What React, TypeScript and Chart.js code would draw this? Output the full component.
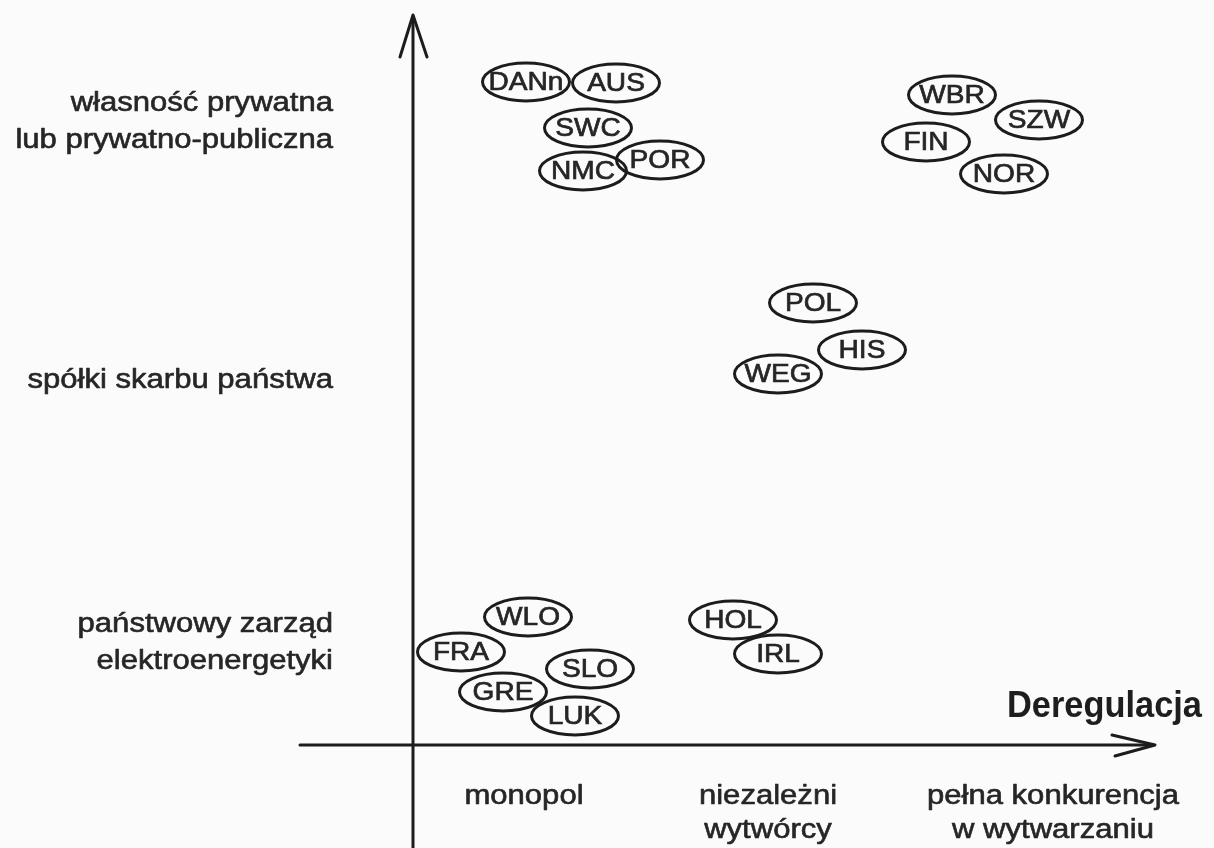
import React, { useEffect, useRef } from 'react';
import { Chart, registerables } from 'chart.js';

Chart.register(...registerables);

// ---- data (x: deregulation level, 0 = vertical axis; y: ownership level, 0 = horizontal axis)
const countries = ['DANn', 'AUS', 'SWC', 'NMC', 'POR', 'WBR', 'SZW', 'FIN', 'NOR', 'POL', 'HIS', 'WEG', 'WLO', 'FRA', 'SLO', 'GRE', 'LUK', 'HOL', 'IRL'];
const deregulation = [0.452, 0.812, 0.7, 0.68, 0.988, 2.156, 2.504, 2.052, 2.364, 1.6, 1.796, 1.46, 0.46, 0.192, 0.708, 0.36, 0.648, 1.28, 1.46];
const ownership = [2.652, 2.648, 2.468, 2.296, 2.34, 2.6, 2.5, 2.412, 2.284, 1.768, 1.58, 1.484, 0.512, 0.372, 0.304, 0.212, 0.116, 0.5, 0.364];

const xLevelLabels = [['monopol'], ['niezależni', 'wytwórcy'], ['pełna konkurencja', 'w wytwarzaniu']];
const xLevelValues = [0.444, 1.42, 2.56];
const yLevelLabels = [['własność prywatna', 'lub prywatno-publiczna'], ['spółki skarbu państwa'], ['państwowy zarząd', 'elektroenergetyki']];
const yLevelValues = [2.492, 1.456, 0.406];
const axisTitle = 'Deregulacja';

// axis extents (data units)
const X_MIN = -1.652, X_MAX = 3.204, Y_MIN = -0.412, Y_MAX = 2.98;
const X_AXIS_START = -0.452, X_AXIS_END = 2.968;
const Y_AXIS_END = 2.92;
const Y_LABEL_X = -0.32;
const X_LABEL_Y = -0.208;
const TITLE_X = 3.156, TITLE_Y = 0.112;

const INK = '#1c1c1c';
const TEXT = '#262626';
const FONT = '"Liberation Sans", Arial, Helvetica, sans-serif';

function makeBadge(label: string): HTMLCanvasElement {
  const c = document.createElement('canvas');
  c.width = 96;
  c.height = 46;
  const ctx = c.getContext('2d')!;
  ctx.strokeStyle = INK;
  ctx.lineWidth = 3;
  ctx.beginPath();
  ctx.ellipse(48, 23, 43.5, 19, 0, 0, Math.PI * 2);
  ctx.stroke();
  ctx.fillStyle = TEXT;
  ctx.strokeStyle = TEXT;
  ctx.lineWidth = 0.7;
  ctx.font = `26px ${FONT}`;
  ctx.textAlign = 'center';
  ctx.textBaseline = 'middle';
  ctx.save();
  ctx.translate(48, 24);
  ctx.scale(1.08, 1);
  ctx.fillText(label, 0, 0);
  ctx.strokeText(label, 0, 0);
  ctx.restore();
  return c;
}

function drawText(ctx: CanvasRenderingContext2D, text: string, x: number, y: number, align: CanvasTextAlign, sx: number, stroke: number) {
  ctx.save();
  ctx.translate(x, y);
  ctx.scale(sx, 1);
  ctx.textAlign = align;
  ctx.fillText(text, 0, 0);
  if (stroke > 0) {
    ctx.lineWidth = stroke;
    ctx.strokeText(text, 0, 0);
  }
  ctx.restore();
}

const diagramPlugin = {
  id: 'diagram',
  beforeDraw(chart: any) {
    const { ctx, width, height } = chart;
    ctx.save();
    ctx.fillStyle = '#fbfbfb';
    ctx.fillRect(0, 0, width, height);
    ctx.restore();
  },
  beforeDatasetsDraw(chart: any) {
    const ctx: CanvasRenderingContext2D = chart.ctx;
    const xs = chart.scales.x;
    const ys = chart.scales.y;
    const x0 = xs.getPixelForValue(0);
    const y0 = ys.getPixelForValue(0);
    ctx.save();
    ctx.strokeStyle = INK;
    ctx.lineWidth = 3;
    ctx.lineCap = 'round';
    ctx.lineJoin = 'round';
    // vertical axis
    const yTop = ys.getPixelForValue(Y_AXIS_END);
    ctx.beginPath();
    ctx.moveTo(x0, ys.getPixelForValue(Y_MIN));
    ctx.lineTo(x0, yTop + 2);
    ctx.stroke();
    ctx.beginPath();
    ctx.moveTo(x0 - 13, yTop + 42);
    ctx.lineTo(x0, yTop);
    ctx.lineTo(x0 + 14, yTop + 42);
    ctx.stroke();
    // horizontal axis
    const xRight = xs.getPixelForValue(X_AXIS_END);
    ctx.beginPath();
    ctx.moveTo(xs.getPixelForValue(X_AXIS_START), y0);
    ctx.lineTo(xRight - 2, y0);
    ctx.stroke();
    ctx.beginPath();
    ctx.moveTo(xRight - 43, y0 - 10);
    ctx.lineTo(xRight, y0);
    ctx.lineTo(xRight - 40, y0 + 11);
    ctx.stroke();

    // level labels
    ctx.fillStyle = TEXT;
    ctx.strokeStyle = TEXT;
    ctx.font = `27px ${FONT}`;
    ctx.textBaseline = 'middle';
    const lineH = 37;
    yLevelLabels.forEach((lines, i) => {
      const cy = ys.getPixelForValue(yLevelValues[i]);
      const start = cy - ((lines.length - 1) * lineH) / 2;
      lines.forEach((t, j) => drawText(ctx, t, xs.getPixelForValue(Y_LABEL_X), start + j * lineH, 'right', 1.15, 0.6));
    });
    xLevelLabels.forEach((lines, i) => {
      const cx = xs.getPixelForValue(xLevelValues[i]);
      const top = ys.getPixelForValue(X_LABEL_Y);
      lines.forEach((t, j) => drawText(ctx, t, cx, top + j * 34, 'center', 1.15, 0.6));
    });
    // axis title
    ctx.font = `bold 37px ${FONT}`;
    ctx.textBaseline = 'alphabetic';
    ctx.fillStyle = '#1e1e1e';
    drawText(ctx, axisTitle, xs.getPixelForValue(TITLE_X), ys.getPixelForValue(TITLE_Y), 'right', 0.93, 0);
    ctx.restore();
  },
};

export default function App() {
  const ref = useRef<HTMLCanvasElement>(null);
  useEffect(() => {
    document.body.style.margin = '0';
    const badges = countries.map(makeBadge);
    const chart = new Chart(ref.current!, {
      type: 'scatter',
      data: {
        datasets: [
          {
            label: 'Kraje',
            data: countries.map((_, i) => ({ x: deregulation[i], y: ownership[i] })),
            pointStyle: badges as any,
            pointRadius: 1,
            clip: false as any,
          },
        ],
      },
      options: {
        responsive: false,
        animation: false,
        events: [],
        layout: { padding: 0, autoPadding: false } as any,
        plugins: { legend: { display: false }, tooltip: { enabled: false }, title: { display: false } },
        scales: {
          x: { type: 'linear', min: X_MIN, max: X_MAX, display: false },
          y: { type: 'linear', min: Y_MIN, max: Y_MAX, display: false },
        },
      },
      plugins: [diagramPlugin],
    });
    return () => chart.destroy();
  }, []);
  return (
    <div style={{ position: 'fixed', left: 0, top: 0, width: 1214, height: 848 }}>
      <canvas ref={ref} width={1214} height={848} style={{ display: 'block' }} />
    </div>
  );
}
